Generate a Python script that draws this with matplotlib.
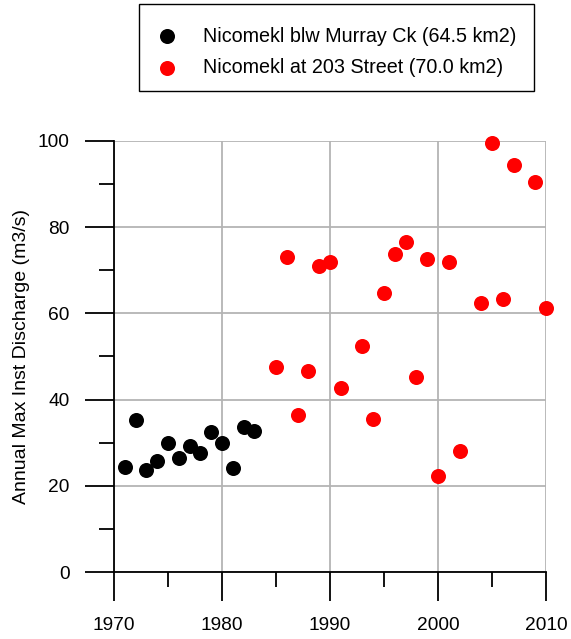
import matplotlib
matplotlib.use("Agg")
import matplotlib.pyplot as plt
from matplotlib.patches import Rectangle
from matplotlib.ticker import MultipleLocator

plt.rcParams['font.family'] = ['Liberation Sans', 'DejaVu Sans']

years_murray = [1971, 1972, 1973, 1974, 1975, 1976, 1977, 1978, 1979, 1980, 1981, 1982, 1983]
flow_murray = [24.5, 35.3, 23.7, 25.9, 30.0, 26.4, 29.3, 27.6, 32.6, 30.0, 24.2, 33.6, 32.8]

years_203 = [1985, 1986, 1987, 1988, 1989, 1990, 1991, 1993, 1994, 1995, 1996, 1997, 1998,
             1999, 2000, 2001, 2002, 2004, 2005, 2006, 2007, 2009, 2010]
flow_203 = [47.6, 73.1, 36.4, 46.7, 71.0, 71.9, 42.8, 52.5, 35.5, 64.8, 73.7, 76.6, 45.2,
            72.6, 22.2, 71.9, 28.1, 62.3, 99.5, 63.4, 94.4, 90.4, 61.2]

label_murray = "Nicomekl blw Murray Ck (64.5 km2)"
label_203 = "Nicomekl at 203 Street (70.0 km2)"
ylabel = "Annual Max Inst Discharge (m3/s)"

W, H = 571, 639
fig = plt.figure(figsize=(W / 100, H / 100), dpi=100)
ax = fig.add_axes([114 / W, 1 - 572.3 / H, (546 - 114) / W, (572.3 - 140.7) / H])

ax.scatter(years_murray, flow_murray, s=117, color='black', label=label_murray,
           clip_on=False, zorder=3, linewidths=0)
ax.scatter(years_203, flow_203, s=117, color='#ff0000', label=label_203,
           clip_on=False, zorder=3, linewidths=0)

ax.set_xlim(1970, 2010)
ax.set_ylim(0, 100)
ax.xaxis.set_major_locator(MultipleLocator(10))
ax.xaxis.set_minor_locator(MultipleLocator(5))
ax.yaxis.set_major_locator(MultipleLocator(20))
ax.yaxis.set_minor_locator(MultipleLocator(10))

ax.grid(True, which='major', color='#b4b4b4', linewidth=1.3, zorder=0)
ax.set_axisbelow(True)
for s in ['top', 'right']:
    ax.spines[s].set_visible(False)
for s in ['left', 'bottom']:
    ax.spines[s].set_linewidth(1.3)
    ax.spines[s].set_color('black')

ax.tick_params(which='major', direction='out', length=21, width=1.3, pad=11, labelsize=13.8)
ax.tick_params(which='minor', direction='out', length=11, width=1.3)

ax.set_ylabel(ylabel, fontsize=14)
ax.yaxis.set_label_coords(-(114 - 30) / (546 - 114), 0.5)

fig.patches.append(Rectangle((139 / W, 1 - 91 / H), (534 - 139) / W, 87 / H,
                             transform=fig.transFigure, facecolor='white',
                             edgecolor='black', linewidth=1.0))
fs = 14.2
fig.legend(loc='center left', bbox_to_anchor=(157.3 / W, 1 - 52 / H), frameon=False,
           fontsize=fs, borderpad=0, handlelength=1.0, handletextpad=1.33,
           labelspacing=0.65, borderaxespad=0, markerscale=1.0)

fig.savefig('out.png', dpi=100)
